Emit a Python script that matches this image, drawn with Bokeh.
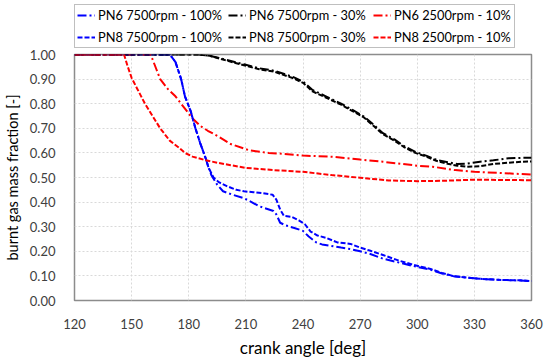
from bokeh.plotting import figure
from bokeh.layouts import column
from bokeh.models import Legend, LegendItem, FixedTicker, NumeralTickFormatter, Range1d
from bokeh.embed import file_html
from bokeh.resources import INLINE

# ---- data ----
x_pn8_7500_100 = [120, 170, 173, 176, 178, 181, 183.5, 186, 188.8, 190.4, 193, 196, 200, 205, 209, 214, 219, 224, 226, 228, 230, 234, 238, 241, 244, 247.6, 252, 258, 265, 270, 275, 282, 290, 298, 307, 313, 319, 326, 333, 340, 347, 354, 360]
y_pn8_7500_100 = [1.0, 1.0, 0.97, 0.90, 0.83, 0.77, 0.70, 0.64, 0.58, 0.54, 0.50, 0.48, 0.465, 0.45, 0.444, 0.44, 0.436, 0.43, 0.41, 0.37, 0.344, 0.34, 0.325, 0.31, 0.28, 0.264, 0.255, 0.236, 0.23, 0.215, 0.203, 0.185, 0.163, 0.145, 0.128, 0.112, 0.099, 0.093, 0.088, 0.085, 0.083, 0.082, 0.079]

x_pn6_7500_100 = [120, 170, 173, 176, 178, 181, 183.5, 186, 188.8, 190.4, 192, 195, 198, 203, 209, 213, 216.7, 220, 224.5, 226, 228, 231, 235, 240, 243, 247, 250, 254, 260, 265, 270, 275, 282, 290, 298, 307, 313, 319, 326, 333, 340, 347, 354, 360]
y_pn6_7500_100 = [1.0, 1.0, 0.97, 0.90, 0.83, 0.77, 0.70, 0.64, 0.58, 0.54, 0.508, 0.47, 0.444, 0.43, 0.416, 0.40, 0.384, 0.375, 0.364, 0.35, 0.316, 0.305, 0.296, 0.283, 0.26, 0.236, 0.228, 0.223, 0.215, 0.209, 0.2, 0.19, 0.17, 0.155, 0.14, 0.125, 0.11, 0.099, 0.093, 0.088, 0.085, 0.083, 0.081, 0.079]

x_pn8_2500_10 = [120, 146, 148, 150, 153, 157, 161, 165, 170, 175, 178, 182, 189, 195, 202, 210, 225, 240, 255, 270, 285, 300, 315, 330, 345, 360]
y_pn8_2500_10 = [1.0, 1.0, 0.95, 0.905, 0.86, 0.80, 0.75, 0.70, 0.65, 0.62, 0.60, 0.585, 0.57, 0.56, 0.55, 0.539, 0.53, 0.523, 0.51, 0.499, 0.488, 0.485, 0.487, 0.491, 0.49, 0.489]

x_pn6_2500_10 = [120, 160, 163, 165, 169, 173, 178, 182, 186, 190, 195, 202, 212, 222, 230, 240, 256, 270, 282, 300, 308, 320, 330, 345, 360]
y_pn6_2500_10 = [1.0, 1.0, 0.94, 0.90, 0.86, 0.83, 0.78, 0.74, 0.71, 0.69, 0.669, 0.636, 0.61, 0.60, 0.596, 0.589, 0.584, 0.573, 0.564, 0.548, 0.544, 0.53, 0.523, 0.518, 0.512]

x_pn8_7500_30 = [120, 185, 191, 200, 209, 217, 225, 235, 240, 245, 252, 260, 266, 272, 277, 282, 288, 293, 299, 305, 310, 316, 321, 326, 333, 340, 348, 355, 360]
y_pn8_7500_30 = [1.0, 1.0, 0.995, 0.975, 0.956, 0.94, 0.93, 0.903, 0.885, 0.85, 0.825, 0.796, 0.77, 0.744, 0.71, 0.676, 0.65, 0.624, 0.6, 0.584, 0.568, 0.556, 0.548, 0.544, 0.546, 0.555, 0.56, 0.564, 0.565]

x_pn6_7500_30 = [120, 185, 191, 200, 209, 217, 225, 235, 240, 245, 252, 260, 266, 272, 277, 282, 288, 293, 299, 305, 310, 316, 321, 326, 333, 340, 348, 355, 360]
y_pn6_7500_30 = [1.0, 1.0, 0.995, 0.978, 0.96, 0.944, 0.934, 0.908, 0.89, 0.856, 0.83, 0.80, 0.775, 0.748, 0.715, 0.68, 0.655, 0.628, 0.604, 0.588, 0.572, 0.562, 0.555, 0.556, 0.564, 0.57, 0.578, 0.58, 0.58]

series_labels = ["PN6 7500rpm - 100%", "PN6 7500rpm - 30%", "PN6 2500rpm - 10%",
                 "PN8 7500rpm - 100%", "PN8 7500rpm - 30%", "PN8 2500rpm - 10%"]

x_ticks = [120, 150, 180, 210, 240, 270, 300, 330, 360]
y_ticks = [0.0, 0.1, 0.2, 0.3, 0.4, 0.5, 0.6, 0.7, 0.8, 0.9, 1.0]

FONT = "Lato"
TXT = "#404040"
DASH = "5 2"
DASHDOT = "9 3 2 3"
colors = ["#0000ff", "black", "#ff0000", "#0000ff", "black", "#ff0000"]
dashes = [DASHDOT, DASHDOT, DASHDOT, DASH, DASH, DASH]

# ---- main plot ----
p = figure(width=550, height=312, output_backend="svg", toolbar_location=None,
           x_range=Range1d(120, 360), y_range=Range1d(0, 1),
           min_border_left=74, min_border_right=19, min_border_bottom=56, min_border_top=6)

series = [(x_pn6_7500_100, y_pn6_7500_100), (x_pn6_7500_30, y_pn6_7500_30),
          (x_pn6_2500_10, y_pn6_2500_10), (x_pn8_7500_100, y_pn8_7500_100),
          (x_pn8_7500_30, y_pn8_7500_30), (x_pn8_2500_10, y_pn8_2500_10)]
for (xs, ys), c, d in zip(series, colors, dashes):
    p.line(xs, ys, color=c, line_width=2, line_dash=d)

p.xaxis.ticker = FixedTicker(ticks=x_ticks)
p.yaxis.ticker = FixedTicker(ticks=y_ticks)
p.yaxis.formatter = NumeralTickFormatter(format="0.00")
for ax in (p.xaxis[0], p.yaxis[0]):
    ax.major_tick_line_color = None
    ax.minor_tick_line_color = None
    ax.axis_line_color = None
    ax.major_label_text_font = FONT
    ax.major_label_text_font_size = "13px"
    ax.major_label_text_color = TXT
    ax.axis_label_text_font = FONT
    ax.axis_label_text_font_style = "normal"
    ax.axis_label_text_color = "#000000"
p.xaxis.axis_label_text_font_size = "17px"
p.yaxis.axis_label_text_font_size = "14.5px"
p.xaxis.axis_label = "crank angle [deg]"
p.yaxis.axis_label = "burnt gas mass fraction [-]"
p.xaxis.major_label_standoff = 12
p.yaxis.major_label_standoff = 13
p.xaxis.axis_label_standoff = 5
p.yaxis.axis_label_standoff = 6

p.xgrid.grid_line_color = "#d9d9d9"
p.ygrid.grid_line_color = "#d9d9d9"
p.xgrid.grid_line_dash = "2 2"
p.ygrid.grid_line_dash = "2 2"
p.outline_line_color = "#8c8c8c"
p.outline_line_width = 1.5
p.outline_line_alpha = 1

# ---- legend strip on top ----
lf = figure(width=550, height=48, output_backend="svg", toolbar_location=None,
            x_range=Range1d(0, 1), y_range=Range1d(0, 1),
            x_axis_location=None, y_axis_location=None,
            min_border_left=0, min_border_right=0, min_border_top=0, min_border_bottom=0)
lf.grid.visible = False
lf.outline_line_color = None
nan = float("nan")
items = []
for lab, c, d in zip(series_labels, colors, dashes):
    r = lf.line([nan], [nan], color=c, line_width=2, line_dash=d)
    items.append(LegendItem(label=lab, renderers=[r]))

legend = Legend(items=items, orientation="horizontal", ncols=3)
legend.label_text_font = FONT
legend.label_text_font_size = "12.8px"
legend.label_text_color = "#000000"
legend.glyph_width = 18
legend.glyph_height = 16
legend.label_height = 16
legend.label_width = 118
legend.spacing = 6
legend.padding = 2
legend.margin = 0
legend.label_standoff = 3
legend.border_line_color = "#7f7f7f"
legend.border_line_width = 1.5
legend.location = (0, 0)
lf.add_layout(legend, "center")

layout = column(lf, p, spacing=0)
open("out.html", "w").write(file_html(layout, INLINE))
